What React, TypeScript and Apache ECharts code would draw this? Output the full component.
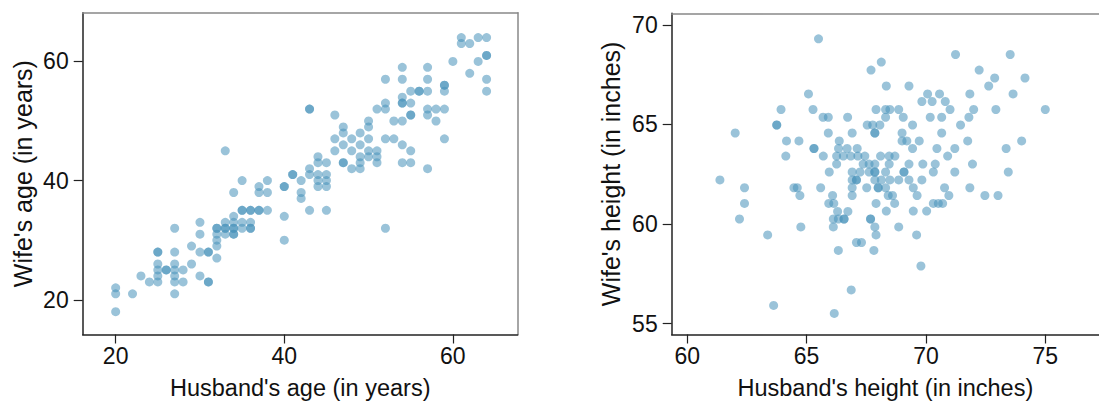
import React, { useEffect, useRef } from "react";
import * as echarts from "echarts";

// Left panel: [husband's age, wife's age] in years
const agePairs: [number, number][] = [
  [20,18],[20,21],[20,22],[22,21],[23,24],[24,23],[25,23],[25,24],[25,25],[25,26],[25,28],[25,28],[26,25],[26,25],
  [27,21],[27,23],[27,24],[27,25],[27,26],[27,28],[27,32],[28,23],[28,25],[29,26],[29,29],[30,24],[30,28],[30,31],[30,33],
  [31,23],[31,23],[31,28],[31,28],[32,27],[32,29],[32,30],[32,31],[32,32],[32,32],[33,31],[33,32],[33,32],[33,33],[33,45],
  [34,31],[34,31],[34,32],[34,32],[34,33],[34,34],[34,38],[35,32],[35,33],[35,35],[35,35],[35,40],[36,32],[36,32],[36,33],
  [36,35],[36,35],[37,35],[37,35],[37,38],[37,39],[38,35],[38,38],[38,40],[40,30],[40,34],[40,39],[40,39],
  [41,41],[41,41],[42,40],[42,38],[42,37],[43,52],[43,52],[43,42],[43,41],[43,35],[44,44],[44,43],[44,41],[44,40],[44,39],
  [45,43],[45,41],[45,40],[45,39],[45,35],[46,51],[46,47],[46,45],[47,49],[47,48],[47,46],[47,43],[47,43],[48,47],[48,45],
  [48,42],[49,48],[49,46],[49,44],[49,43],[49,42],[50,50],[50,49],[50,47],[50,45],[50,44],[51,45],[51,44],[51,43],[52,47],
  [52,32],[53,50],[53,47],[54,50],[54,46],[54,43],[55,45],[55,43],[57,42],[58,50],[59,47],
  [61,64],[63,64],[64,64],[61,63],[62,63],[64,61],[64,61],[60,60],[63,60],[54,59],[57,59],[62,58],[52,57],[54,57],[57,57],
  [64,57],[59,56],[59,56],[55,55],[56,55],[56,55],[57,55],[59,55],[64,55],[54,54],[52,53],[54,53],[54,53],[55,53],[51,52],
  [52,52],[57,52],[58,52],[59,52],[55,51],[55,51],[57,51],
];

// Right panel: [husband's height, wife's height] in inches
const heightPairs: [number, number][] = [
  [65.50,69.30],[67.70,67.73],[68.13,68.13],[71.24,68.51],[73.53,68.51],[72.23,67.73],[72.88,67.33],[74.15,67.33],
  [65.08,66.53],[68.34,66.93],[69.29,66.93],[72.63,66.93],[70.07,66.53],[70.57,66.53],[71.84,66.53],[73.65,66.53],
  [69.83,66.15],[70.26,66.15],[70.81,66.15],
  [63.93,65.75],[65.27,65.75],[67.91,65.75],[68.31,65.75],[68.49,65.75],[68.86,65.75],[71.01,65.75],[72.00,65.75],[72.93,65.75],[75.00,65.75],
  [65.69,65.36],[65.91,65.36],[66.72,65.36],[68.31,65.36],[69.05,65.36],[70.18,65.36],[70.66,65.36],[71.80,65.36],
  [63.75,64.97],[63.75,64.97],[67.54,64.97],[67.77,64.97],[68.07,64.97],[69.44,64.97],[71.45,64.97],
  [62.01,64.57],[65.91,64.57],[66.91,64.57],[67.86,64.57],[67.86,64.57],[69.00,64.57],[70.66,64.57],
  [64.16,64.17],[64.68,64.17],[66.37,64.17],[69.00,64.17],[69.20,64.17],[69.72,64.17],[71.75,64.17],[74.01,64.17],
  [65.31,63.79],[65.31,63.79],[66.34,63.79],[66.70,63.79],[67.12,63.79],[69.44,63.79],[70.46,63.79],[71.21,63.79],[73.36,63.79],
  [64.13,63.41],[65.70,63.41],[66.26,63.41],[66.54,63.41],[66.85,63.41],[67.15,63.41],[67.44,63.41],[68.10,63.41],[68.46,63.41],[68.70,63.41],[70.91,63.41],
  [66.26,63.01],[67.37,63.01],[67.62,63.01],[67.86,63.01],[68.46,63.01],[69.29,63.01],[69.87,63.01],[70.39,63.01],[71.95,63.01],
  [65.95,62.61],[66.91,62.61],[67.24,62.61],[67.62,62.61],[67.86,62.61],[67.86,62.61],[68.31,62.61],[69.08,62.61],[69.08,62.61],[70.31,62.61],[71.21,62.61],[73.45,62.61],
  [61.37,62.21],[66.91,62.21],[67.09,62.21],[67.09,62.21],[67.86,62.21],[68.13,62.21],[68.49,62.21],[68.86,62.21],[69.29,62.21],[69.83,62.21],
  [62.40,61.82],[64.47,61.82],[64.61,61.82],[65.59,61.82],[66.91,61.82],[67.52,61.82],[68.00,61.82],[68.00,61.82],[68.31,61.82],[69.47,61.82],[70.78,61.82],[71.84,61.82],
  [64.72,61.43],[66.09,61.43],[66.91,61.43],[68.42,61.43],[68.60,61.43],[69.63,61.43],[70.96,61.43],[72.47,61.43],[73.02,61.43],
  [62.40,61.03],[65.93,61.03],[66.14,61.03],[67.91,61.03],[68.69,61.03],[70.31,61.03],[70.52,61.03],[70.70,61.03],
  [66.30,60.63],[66.73,60.63],[68.34,60.65],[69.47,60.65],[70.03,60.65],
  [62.19,60.25],[66.12,60.25],[66.33,60.25],[66.57,60.25],[66.57,60.25],[67.68,60.25],[67.68,60.25],
  [64.76,59.85],[66.12,59.85],[67.86,59.85],[68.86,59.85],
  [63.37,59.45],[67.91,59.45],[69.61,59.45],
  [67.09,59.07],[67.30,59.07],
  [66.33,58.67],[67.82,58.67],
  [69.79,57.89],[66.87,56.69],[63.62,55.91],[66.16,55.51],
];

const ageTicks = [20, 40, 60];
const husbandHeightTicks = [60, 65, 70, 75];
const wifeHeightTicks = [55, 60, 65, 70];

const FONT = "Liberation Sans, Arial, Helvetica, sans-serif";
const AXIS_COLOR = "#222";
const FRAME_COLOR = "#888";
const DOT_COLOR = "rgba(70,145,185,0.68)";

function mainAxis(
  gridIndex: number, min: number, max: number, ticks: number[], name: string,
  nameGap: number, nameSize: number, labelMargin: number
) {
  return {
    type: "value",
    gridIndex,
    min,
    max,
    name,
    nameLocation: "middle",
    nameGap,
    nameTextStyle: { fontFamily: FONT, fontSize: nameSize, color: "#111" },
    axisLine: { show: true, onZero: false, lineStyle: { color: AXIS_COLOR, width: 1.5 } },
    axisTick: { show: true, customValues: ticks, length: 9, lineStyle: { color: AXIS_COLOR, width: 1.2 } },
    axisLabel: { show: true, customValues: ticks, fontFamily: FONT, fontSize: 23, color: "#111", margin: labelMargin },
    splitLine: { show: false },
  };
}

function frameAxis(gridIndex: number, min: number, max: number, position: string) {
  return {
    type: "value",
    gridIndex,
    min,
    max,
    position,
    axisLine: { show: true, onZero: false, lineStyle: { color: FRAME_COLOR, width: 1.5 } },
    axisTick: { show: false },
    axisLabel: { show: false },
    splitLine: { show: false },
  };
}

export default function App() {
  const ref = useRef<HTMLDivElement>(null);
  useEffect(() => {
    if (!ref.current) return;
    const chart = echarts.init(ref.current, null, { renderer: "svg" });
    chart.setOption({
      animation: false,
      backgroundColor: "#fff",
      grid: [
        { left: 82.7, top: 12.7, width: 435, height: 324 },
        { left: 671.7, top: 13.3, width: 427.3, height: 323.4 },
      ],
      xAxis: [
        { ...mainAxis(0, 16.09, 67.69, ageTicks, "Husband's age (in years)", 41.5, 23.5, 10), position: "bottom" },
        frameAxis(0, 16.09, 67.69, "top"),
        { ...mainAxis(1, 59.35, 77.25, husbandHeightTicks, "Husband's height (in inches)", 41.5, 23.5, 10), position: "bottom" },
        frameAxis(1, 59.35, 77.25, "top"),
      ],
      yAxis: [
        { ...mainAxis(0, 14.17, 68.17, ageTicks, "Wife's age (in years)", 47, 25, 14), position: "left" },
        frameAxis(0, 14.17, 68.17, "right"),
        { ...mainAxis(1, 54.45, 70.58, wifeHeightTicks, "Wife's height (in inches)", 48, 25, 14), position: "left" },
      ],
      series: [
        {
          type: "scatter",
          xAxisIndex: 0,
          yAxisIndex: 0,
          symbol: "circle",
          symbolSize: 9,
          itemStyle: { color: DOT_COLOR },
          data: agePairs,
        },
        {
          type: "scatter",
          xAxisIndex: 2,
          yAxisIndex: 2,
          symbol: "circle",
          symbolSize: 9,
          itemStyle: { color: DOT_COLOR },
          data: heightPairs,
        },
      ],
    });
    return () => chart.dispose();
  }, []);
  return (
    <div
      ref={ref}
      style={{ position: "fixed", left: 0, top: 0, width: 1099, height: 405, background: "#fff" }}
    />
  );
}
